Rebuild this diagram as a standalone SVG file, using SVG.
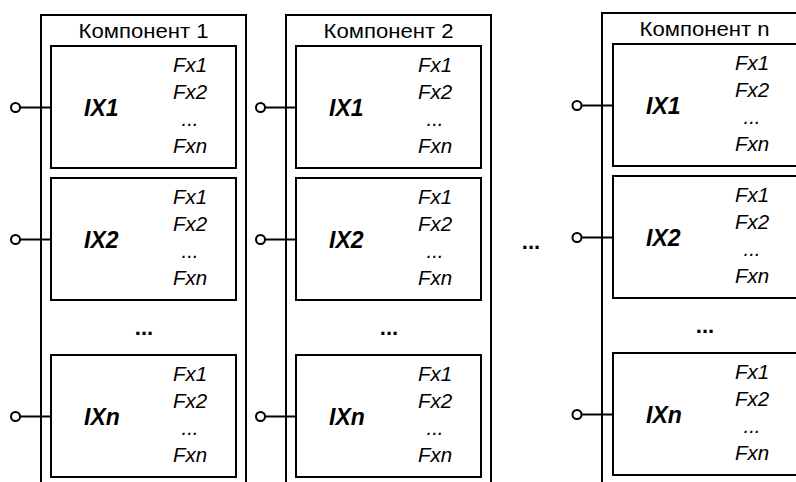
<svg xmlns="http://www.w3.org/2000/svg" width="796" height="482" viewBox="0 0 796 482">
<style>
.outer{fill:none;stroke:#000;stroke-width:2}
.box{fill:#fff;stroke:#000;stroke-width:2}
.ttl{font-family:"Liberation Sans",Arial,sans-serif;font-size:20px;text-anchor:middle;fill:#000}
.fx{font-family:"Liberation Sans",Arial,sans-serif;font-size:20.5px;font-style:italic;text-anchor:middle;fill:#000}
.ix{font-family:"Liberation Sans",Arial,sans-serif;font-size:23px;font-style:italic;font-weight:bold;fill:#000}
.dots{font-family:"Liberation Sans",Arial,sans-serif;font-size:22px;font-weight:bold;text-anchor:middle;fill:#000}
.wire{stroke:#000;stroke-width:2;fill:none}
.pin{fill:#fff;stroke:#000;stroke-width:2}
</style>
<defs>
<g id="ifc">
<rect class="box" x="0" y="0" width="185" height="122"/>
<text class="fx" x="139" y="26">Fx1</text>
<text class="fx" x="139" y="52.5">Fx2</text>
<text class="fx" x="139" y="80">...</text>
<text class="fx" x="139" y="107">Fxn</text>
</g>
</defs>
<rect width="796" height="482" fill="#fff"/>

<g id="comp1">
<rect class="outer" x="41" y="15" width="205" height="490"/>
<text class="ttl" x="143.5" y="38" textLength="130" lengthAdjust="spacingAndGlyphs">Компонент 1</text>
<g id="comp1-ix1"><use href="#ifc" x="51" y="46"/><text class="ix" x="84" y="115.5">IX1</text></g>
<g id="comp1-ix2"><use href="#ifc" x="51" y="178"/><text class="ix" x="84" y="247.5">IX2</text></g>
<text class="dots" x="144" y="335">...</text>
<g id="comp1-ixn"><use href="#ifc" x="51" y="355"/><text class="ix" x="84" y="424.5">IXn</text></g>
</g>

<g id="comp2">
<rect class="outer" x="286" y="15" width="205" height="490"/>
<text class="ttl" x="388.5" y="38" textLength="130" lengthAdjust="spacingAndGlyphs">Компонент 2</text>
<g id="comp2-ix1"><use href="#ifc" x="296" y="46"/><text class="ix" x="329" y="115.5">IX1</text></g>
<g id="comp2-ix2"><use href="#ifc" x="296" y="178"/><text class="ix" x="329" y="247.5">IX2</text></g>
<text class="dots" x="389" y="335">...</text>
<g id="comp2-ixn"><use href="#ifc" x="296" y="355"/><text class="ix" x="329" y="424.5">IXn</text></g>
</g>

<text id="gap-dots" class="dots" x="531" y="249">...</text>

<g id="compn">
<rect class="outer" x="602" y="13" width="205" height="490"/>
<text class="ttl" x="704.5" y="36" textLength="130" lengthAdjust="spacingAndGlyphs">Компонент n</text>
<g id="compn-ix1"><use href="#ifc" x="613" y="44"/><text class="ix" x="646" y="113.5">IX1</text></g>
<g id="compn-ix2"><use href="#ifc" x="613" y="176"/><text class="ix" x="646" y="245.5">IX2</text></g>
<text class="dots" x="705" y="333">...</text>
<g id="compn-ixn"><use href="#ifc" x="613" y="353"/><text class="ix" x="646" y="422.5">IXn</text></g>
</g>

<g id="connectors">
<line class="wire" x1="20" y1="107.5" x2="51" y2="107.5"/><circle class="pin" cx="15.5" cy="107.5" r="4.5"/>
<line class="wire" x1="20" y1="239.5" x2="51" y2="239.5"/><circle class="pin" cx="15.5" cy="239.5" r="4.5"/>
<line class="wire" x1="20" y1="416.5" x2="51" y2="416.5"/><circle class="pin" cx="15.5" cy="416.5" r="4.5"/>
<line class="wire" x1="265" y1="107.5" x2="296" y2="107.5"/><circle class="pin" cx="260.5" cy="107.5" r="4.5"/>
<line class="wire" x1="265" y1="239.5" x2="296" y2="239.5"/><circle class="pin" cx="260.5" cy="239.5" r="4.5"/>
<line class="wire" x1="265" y1="416.5" x2="296" y2="416.5"/><circle class="pin" cx="260.5" cy="416.5" r="4.5"/>
<line class="wire" x1="581.5" y1="105.5" x2="613" y2="105.5"/><circle class="pin" cx="577" cy="105.5" r="4.5"/>
<line class="wire" x1="581.5" y1="237.5" x2="613" y2="237.5"/><circle class="pin" cx="577" cy="237.5" r="4.5"/>
<line class="wire" x1="581.5" y1="414.5" x2="613" y2="414.5"/><circle class="pin" cx="577" cy="414.5" r="4.5"/>
</g>
</svg>
